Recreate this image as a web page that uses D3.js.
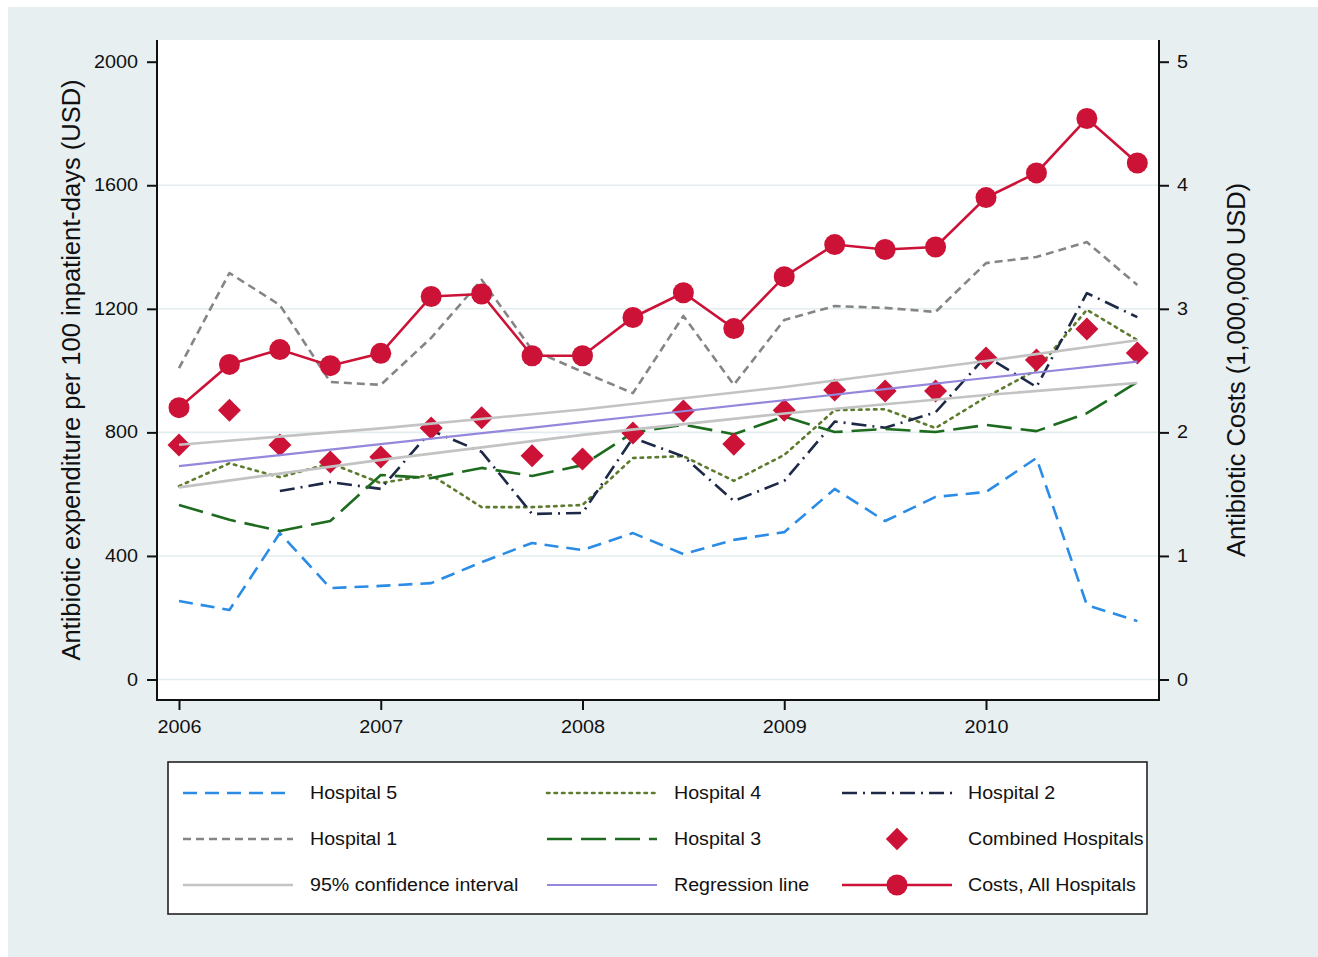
<!DOCTYPE html>
<html>
<head>
<meta charset="utf-8">
<script src="https://cdn.jsdelivr.net/npm/d3@7"></script>
<style>
  html, body { margin: 0; padding: 0; background: #ffffff; }
  svg { display: block; font-family: "Liberation Sans", Arial, Helvetica, sans-serif; }
</style>
</head>
<body>
<svg id="chart" width="1318" height="957"></svg>
<script>
// ---------------- DATA ----------------
const quarters = [2006, 2006.25, 2006.5, 2006.75, 2007, 2007.25, 2007.5, 2007.75,
                  2008, 2008.25, 2008.5, 2008.75, 2009, 2009.25, 2009.5, 2009.75,
                  2010, 2010.25, 2010.5, 2010.75];
const yearTicks = [2006, 2007, 2008, 2009, 2010];
const leftTicks = [0, 400, 800, 1200, 1600, 2000];
const rightTicks = [0, 1, 2, 3, 4, 5];

const hospital5 = [254, 225, 474, 296, 303, 312, 380, 442, 419, 474, 406, 452, 477, 617, 513, 591, 607, 717, 241, 189];
const hospital4 = [626, 700, 655, 700, 636, 662, 558, 558, 565, 717, 723, 643, 727, 872, 875, 814, 914, 1002, 1197, 1099];
const hospital2 = [null, null, 610, 639, 617, 806, 737, 536, 539, 782, 722, 578, 643, 835, 815, 865, 1047, 947, 1251, 1173];
const hospital1 = [1008, 1316, 1212, 963, 954, 1106, 1294, 1067, 996, 927, 1177, 954, 1164, 1209, 1203, 1190, 1348, 1368, 1416, 1277];
const hospital3 = [565, 517, 481, 513, 662, 652, 685, 659, 694, 799, 825, 794, 851, 801, 811, 801, 824, 804, 862, 963];
const combined  = [759, 872, 759, 704, 720, 814, 847, 724, 714, 798, 869, 762, 872, 937, 934, 934, 1041, 1034, 1135, 1057];
const costsMillion = [2.20, 2.55, 2.67, 2.54, 2.64, 3.10, 3.12, 2.62, 2.62, 2.93, 3.13, 2.84, 3.26, 3.52, 3.48, 3.50, 3.90, 4.10, 4.54, 4.18];

const fitX     = [2006, 2007, 2008, 2009, 2010, 2010.75];
const fitLine  = [691, 762, 833, 904, 976, 1029];
const ciUpper  = [760, 813, 874, 947, 1031, 1098];
const ciLower  = [622, 711, 792, 861, 921, 960];

const legendItems = [
  ["Hospital 5", "h5"], ["Hospital 4", "h4"], ["Hospital 2", "h2"],
  ["Hospital 1", "h1"], ["Hospital 3", "h3"], ["Combined Hospitals", "comb"],
  ["95% confidence interval", "ci"], ["Regression line", "reg"], ["Costs, All Hospitals", "cost"]
];

// ---------------- STYLES ----------------
const styles = {
  h5:  { color: "#2b8ce6", width: 2.6, dash: "14,8" },
  h4:  { color: "#5d7a2e", width: 2.6, dash: "2.5,5" },
  h2:  { color: "#1d2947", width: 2.6, dash: "15,6,2,6" },
  h1:  { color: "#858585", width: 2.6, dash: "8,5" },
  h3:  { color: "#1c6b1e", width: 2.6, dash: "25,9" },
  ci:  { color: "#c3c3c3", width: 2.6, dash: null },
  reg: { color: "#9487dc", width: 2.2, dash: null },
  cost:{ color: "#cc1236", width: 2.6, dash: null }
};
const red = "#cc1236";

// ---------------- LAYOUT ----------------
const svg = d3.select("#chart");
const plot = { left: 157, right: 1159, top: 40, bottom: 700 };

svg.append("rect").attr("x", 8).attr("y", 7).attr("width", 1310).attr("height", 950).attr("fill", "#e7eff1");
svg.append("rect").attr("x", plot.left).attr("y", plot.top)
   .attr("width", plot.right - plot.left).attr("height", plot.bottom - plot.top).attr("fill", "#ffffff");

const x = d3.scaleLinear().domain([2006, 2010]).range([179, 986]);
const y = d3.scaleLinear().domain([0, 2000]).range([679.5, 61.7]);
const yR = d3.scaleLinear().domain([0, 5]).range([679.5, 61.7]);

// gridlines
svg.append("g").selectAll("line").data(leftTicks.filter(d => d < 2000)).join("line")
  .attr("x1", plot.left).attr("x2", plot.right)
  .attr("y1", d => y(d)).attr("y2", d => y(d))
  .attr("stroke", "#e3ecee").attr("stroke-width", 1.6);

// stretch helper (reference glyphs are wider than Liberation Sans)
function stretch(sel, f) {
  sel.each(function () {
    const len = this.getComputedTextLength();
    d3.select(this).attr("textLength", len * f).attr("lengthAdjust", "spacingAndGlyphs");
  });
}

// axes
function styleAxis(g) {
  g.select(".domain").remove();
  g.selectAll(".tick line").attr("stroke", "#111").attr("stroke-width", 2);
  g.selectAll(".tick text").attr("fill", "#111").style("font-size", "17.5px")
   .style("font-family", "'Liberation Sans', Arial, Helvetica, sans-serif");
  stretch(g.selectAll(".tick text"), 1.13);
}
const gL = svg.append("g").attr("transform", `translate(${plot.left},0)`)
  .call(d3.axisLeft(y).tickValues(leftTicks).tickFormat(d3.format("d")).tickSize(10).tickPadding(9));
styleAxis(gL);
const gR = svg.append("g").attr("transform", `translate(${plot.right},0)`)
  .call(d3.axisRight(yR).tickValues(rightTicks).tickFormat(d3.format("d")).tickSize(10).tickPadding(8));
styleAxis(gR);
const gB = svg.append("g").attr("transform", `translate(0,${plot.bottom})`)
  .call(d3.axisBottom(x).tickValues(yearTicks).tickFormat(d3.format("d")).tickSize(10).tickPadding(11));
styleAxis(gB);

svg.append("line").attr("x1", plot.left).attr("x2", plot.left).attr("y1", plot.top).attr("y2", plot.bottom + 1)
  .attr("stroke", "#111").attr("stroke-width", 2);
svg.append("line").attr("x1", plot.right).attr("x2", plot.right).attr("y1", plot.top).attr("y2", plot.bottom + 1)
  .attr("stroke", "#111").attr("stroke-width", 2);
svg.append("line").attr("x1", plot.left - 1).attr("x2", plot.right + 1).attr("y1", plot.bottom).attr("y2", plot.bottom)
  .attr("stroke", "#111").attr("stroke-width", 2);

// axis titles
svg.append("text").attr("transform", `translate(80,370) rotate(-90)`)
  .attr("text-anchor", "middle").style("font-size", "25.5px").attr("fill", "#111")
  .text("Antibiotic expenditure per 100 inpatient-days (USD)");
svg.append("text").attr("transform", `translate(1245,370) rotate(-90)`)
  .attr("text-anchor", "middle").style("font-size", "25.5px").attr("fill", "#111")
  .text("Antibiotic Costs (1,000,000 USD)");

// ---------------- SERIES ----------------
const line = d3.line().defined(d => d[1] != null).x(d => x(d[0])).y(d => y(d[1]));
function drawSeries(vals, key) {
  const s = styles[key];
  svg.append("path").datum(quarters.map((q, i) => [q, vals[i]]))
    .attr("d", line).attr("fill", "none")
    .attr("stroke", s.color).attr("stroke-width", s.width)
    .attr("stroke-dasharray", s.dash).attr("stroke-linejoin", "round")
    .attr("stroke-linecap", key === "h4" ? "round" : "butt");
}
drawSeries(hospital5, "h5");
drawSeries(hospital4, "h4");
drawSeries(hospital2, "h2");
drawSeries(hospital1, "h1");
drawSeries(hospital3, "h3");

const diamond = d3.symbol().type(d3.symbolSquare).size(265);
svg.append("g").selectAll("path").data(quarters.map((q, i) => [q, combined[i]])).join("path")
  .attr("d", diamond)
  .attr("transform", d => `translate(${x(d[0])},${y(d[1])}) rotate(45)`)
  .attr("fill", red);

const fitCurve = d3.line().curve(d3.curveMonotoneX).x(d => x(d[0])).y(d => y(d[1]));
[ciUpper, ciLower].forEach(arr => {
  svg.append("path").datum(fitX.map((q, i) => [q, arr[i]])).attr("d", fitCurve)
    .attr("fill", "none").attr("stroke", styles.ci.color).attr("stroke-width", styles.ci.width);
});
svg.append("path").datum(fitX.map((q, i) => [q, fitLine[i]])).attr("d", fitCurve)
  .attr("fill", "none").attr("stroke", styles.reg.color).attr("stroke-width", styles.reg.width);

const costLine = d3.line().x(d => x(d[0])).y(d => yR(d[1]));
const costData = quarters.map((q, i) => [q, costsMillion[i]]);
svg.append("path").datum(costData).attr("d", costLine).attr("fill", "none")
  .attr("stroke", red).attr("stroke-width", 2.6);
svg.append("g").selectAll("circle").data(costData).join("circle")
  .attr("cx", d => x(d[0])).attr("cy", d => yR(d[1])).attr("r", 10.5).attr("fill", red);

// ---------------- LEGEND ----------------
const lg = svg.append("g");
lg.append("rect").attr("x", 168).attr("y", 762).attr("width", 979).attr("height", 152)
  .attr("fill", "#ffffff").attr("stroke", "#222").attr("stroke-width", 1.6);
const colSample = [183, 547, 842];
const colText = [310, 674, 968];
const rowY = [793, 839, 885];
legendItems.forEach(([label, key], i) => {
  const c = i % 3, r = Math.floor(i / 3);
  const x0 = colSample[c], x1 = x0 + 110, yy = rowY[r];
  if (key === "comb") {
    lg.append("path").attr("d", d3.symbol().type(d3.symbolSquare).size(250))
      .attr("transform", `translate(${(x0 + x1) / 2},${yy}) rotate(45)`).attr("fill", red);
  } else {
    const s = styles[key];
    lg.append("line").attr("x1", x0).attr("x2", x1).attr("y1", yy).attr("y2", yy)
      .attr("stroke", s.color).attr("stroke-width", s.width).attr("stroke-dasharray", s.dash)
      .attr("stroke-linecap", key === "h4" ? "round" : "butt");
    if (key === "cost") {
      lg.append("circle").attr("cx", (x0 + x1) / 2).attr("cy", yy).attr("r", 10.5).attr("fill", red);
    }
  }
  lg.append("text").attr("class", "lgtext").attr("x", colText[c]).attr("y", yy).attr("dy", "0.35em")
    .style("font-size", "18px").attr("fill", "#111").text(label);
});
stretch(lg.selectAll(".lgtext"), 1.09);
</script>
</body>
</html>
